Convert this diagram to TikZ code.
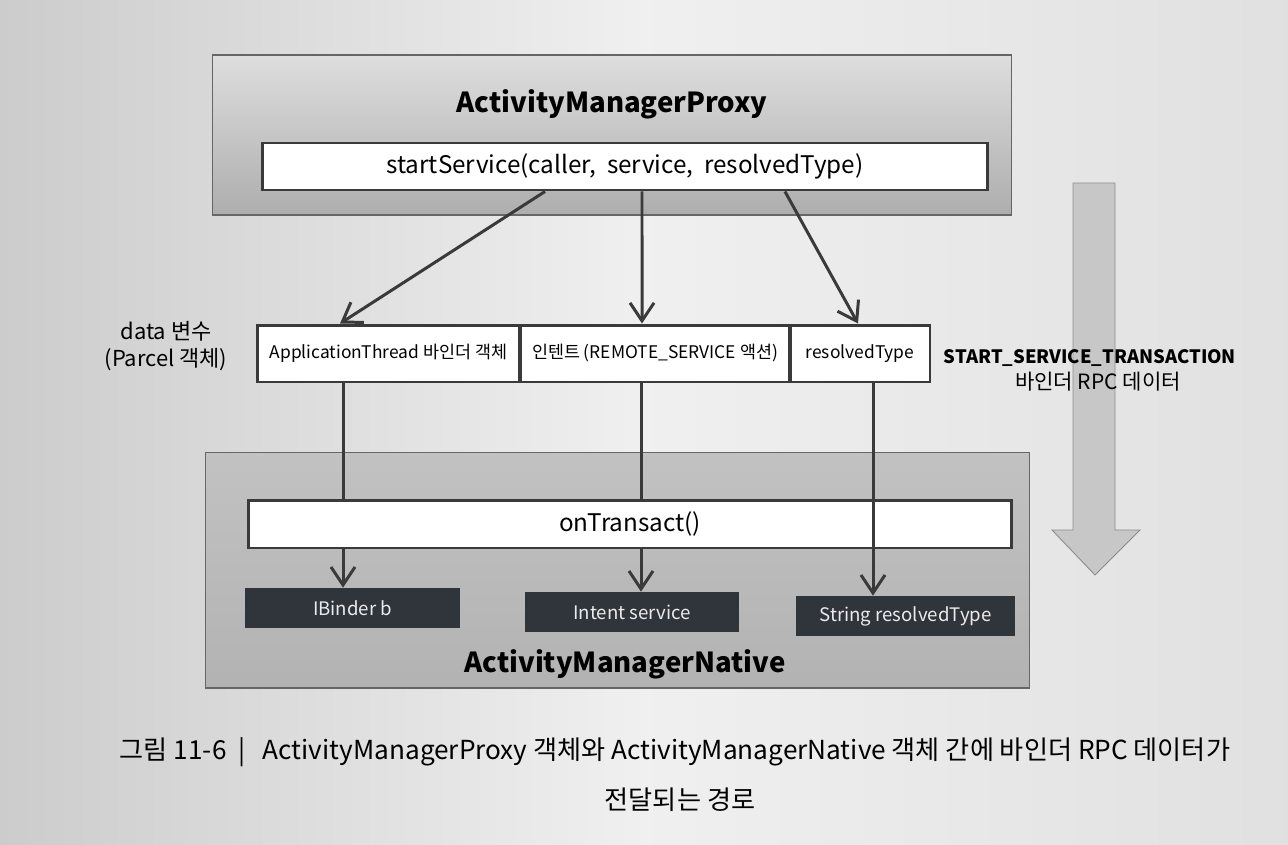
\documentclass[tikz,border=0pt]{standalone}
\usepackage{fontspec}
\setmainfont{Noto Sans CJK KR}
\usetikzlibrary{arrows.meta,shapes.geometric}
\definecolor{lineclr}{HTML}{3A3A3A}
\definecolor{darkbox}{HTML}{30343B}
\begin{document}
\begin{tikzpicture}[x=0.02cm,y=-0.02cm,
  container/.style={draw=black!60,line width=0.6pt,inner sep=0pt},
  whitebox/.style={draw=lineclr,fill=white,line width=1.7pt,inner sep=0pt},
  cellbox/.style={draw=lineclr,fill=white,line width=1.7pt,inner sep=0pt,minimum height=1.14cm,font=\fontsize{9.9}{11}\selectfont},
  darkbx/.style={fill=darkbox,text=white!92!black,inner sep=0pt,minimum width=4.3cm,minimum height=0.8cm,font=\fontsize{10.6}{12}\selectfont},
  titletext/.style={font=\fontsize{15.7}{19}\selectfont\bfseries},
  arr/.style={draw=lineclr,line width=1.7pt,-{Straight Barb[length=0.36cm,width=0.48cm,line width=1.7pt]}},
  plain/.style={draw=lineclr,line width=1.7pt},
  lbl/.style={font=\fontsize{12.5}{15}\selectfont,align=center,inner sep=0pt}
]
\useasboundingbox (0,0) rectangle (1288,845);
% page
\shade[left color=black!20,right color=black!12,middle color=black!6] (0,0) rectangle (1288,845);

% containers
\node[container,top color=black!13,bottom color=black!32,minimum width=16cm,minimum height=3.2cm] (topbox) at (612,135) {};
\node[container,top color=black!24,bottom color=black!30,minimum width=16.5cm,minimum height=4.72cm] (botbox) at (617.5,570) {};

\node[titletext] (proxy) at (612,104) {ActivityManagerProxy};
\node[titletext] (native) at (625,664) {ActivityManagerNative};

\node[whitebox,minimum width=14.52cm,minimum height=0.94cm,font=\fontsize{13.8}{15}\selectfont] (startbox) at (625,166.5) {startService(caller,\ \ service,\ \ resolvedType)};

% data cells
\node[cellbox,minimum width=5.26cm] (cell1) at (388.5,353.5) {ApplicationThread 바인더 객체};
\node[cellbox,minimum width=5.4cm] (cell2) at (655,353.5) {인텐트 (REMOTE\_SERVICE 액션)};
\node[cellbox,minimum width=2.8cm] (cell3) at (860,353.5) {resolvedType};

\node[lbl] (datalbl) at (166,346) {data 변수\\(Parcel 객체)};

% big hollow arrow
\draw[draw=black!45,line width=0.5pt,fill=black!22] (1073,183) -- (1115,183) -- (1115,530) -- (1140,530) -- (1095,575) -- (1052,530) -- (1073,530) -- cycle;

\node[font=\fontsize{10.5}{12}\selectfont\bfseries,inner sep=0pt] (rpc1) at (1090,358) {START\_SERVICE\_TRANSACTION};
\node[font=\fontsize{12}{14}\selectfont,inner sep=0pt] (rpc2) at (1098,382) {바인더 RPC 데이터};

% onTransact
\node[whitebox,minimum width=15.28cm,minimum height=0.96cm,font=\fontsize{13.8}{15}\selectfont] (onT) at (630,524) {onTransact()};

% result boxes
\node[darkbx] (ibinder) at (352.5,608) {IBinder b};
\node[darkbx] (intent) at (632,612) {Intent service};
\node[darkbx,minimum width=4.38cm] (string) at (905.5,616) {String resolvedType};

% arrows from startService to cells
\draw[arr] ([xshift=-1.6cm]startbox.south) -- ([xshift=-0.97cm]cell1.north);
\draw[arr] ([xshift=0.34cm]startbox.south) -- ([xshift=-0.26cm]cell2.north);
\draw[arr] ([xshift=3.2cm]startbox.south) -- ([xshift=-0.04cm]cell3.north);

% coordinates at the cell bottoms
\coordinate (l1) at ([xshift=-0.91cm]cell1.south);
\coordinate (m1) at ([xshift=-0.28cm]cell2.south);
\coordinate (r1) at ([xshift=0.26cm]cell3.south);

\draw[plain] (l1) -- (onT.north -| l1);
\draw[arr] (onT.south -| l1) -- (ibinder.north -| l1);
\draw[plain] (m1) -- (onT.north -| m1);
\draw[arr] (onT.south -| m1) -- (intent.north -| m1);
\draw[arr] (r1) -- (string.north -| r1);

% caption
\node[font=\fontsize{14.9}{17}\selectfont,inner sep=0pt] (cap1) at (675,752) {그림 11-6\ \ |\ \ \ ActivityManagerProxy 객체와 ActivityManagerNative 객체 간에 바인더 RPC 데이터가};
\node[font=\fontsize{14.9}{17}\selectfont,inner sep=0pt] (cap2) at (680,800) {전달되는 경로};
\end{tikzpicture}
\end{document}
